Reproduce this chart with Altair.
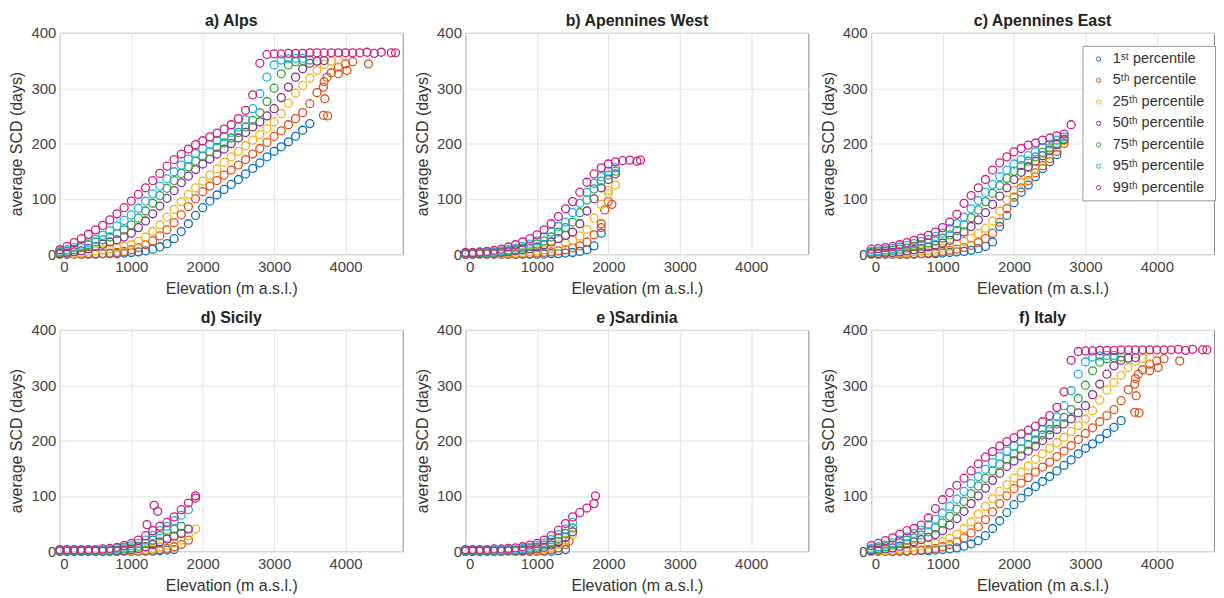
import altair as alt
import pandas as pd

# ---------------- series ----------------
SERIES = ["1ˢᵗ  percentile", "5ᵗʰ  percentile", "25ᵗʰ  percentile", "50ᵗʰ  percentile",
          "75ᵗʰ  percentile", "95ᵗʰ  percentile", "99ᵗʰ  percentile"]
COLORS = ["#0b6fbd", "#d9531b", "#f0b11e", "#7e2f8e", "#34a238", "#22b0ee", "#cc1d80"]

ELEV = list(range(0, 4800, 100))

# ---------------- a) Alps ----------------
ALPS_P1 = [0, 0, 0, 0, 0, 0, 1, 1, 1, 2, 3, 4, 6, 9, 13, 19, 28, 41, 55, 70, 84, 96, 107, 117, 126, 135,
           145, 155, 165, 176, 186, 194, 203, 213, 224, 236]
ALPS_P5 = [0, 0, 0, 0, 1, 1, 1, 2, 3, 5, 8, 12, 17, 24, 33, 44, 57, 71, 86, 100, 113, 123, 133, 143, 152,
           161, 171, 181, 191, 202, 213, 223, 234, 245, 256, 272, 292, 312, 328, 338, 344, 348]
ALPS_P25 = [0, 1, 1, 2, 4, 6, 8, 10, 12, 14, 17, 23, 31, 41, 53, 67, 81, 95, 108, 120, 132, 143, 154, 166,
            176, 186, 196, 206, 216, 227, 239, 254, 273, 291, 305, 318, 332, 343, 349, 351]
ALPS_P50 = [1, 2, 4, 6, 10, 14, 18, 22, 26, 31, 38, 48, 60, 73, 87, 101, 115, 129, 141, 153, 163, 172, 181,
            190, 200, 210, 220, 230, 239, 250, 263, 283, 302, 320, 335, 345, 349, 350]
ALPS_P75 = [3, 5, 8, 12, 17, 22, 26, 31, 37, 44, 53, 65, 78, 92, 106, 119, 133, 146, 158, 168, 177, 185,
            193, 201, 210, 220, 230, 242, 256, 276, 300, 326, 342, 348, 350, 351]
ALPS_P95 = [5, 8, 12, 16, 21, 27, 34, 42, 51, 61, 71, 83, 96, 109, 123, 136, 149, 161, 172, 182, 191, 198,
            205, 212, 220, 230, 243, 263, 290, 320, 342, 351, 353, 354, 354]
ALPS_P99 = [8, 14, 21, 28, 36, 44, 52, 62, 73, 84, 96, 108, 120, 133, 146, 159, 171, 181, 190, 198, 205,
            212, 219, 226, 234, 245, 260, 288, 345, 361, 362, 362, 363, 363, 363, 364, 364, 364, 364, 364,
            364, 364, 364, 365, 363, 365, None, 364]
ALPS_X_SERIES = [1, 1, 1, 1, 1, 1, 1, 1, 6]
ALPS_X_ELEV = [3690, 3750, 3710, 3690, 3740, 3900, 4020, 4320, 4640]
ALPS_X_VAL = [251, 250, 281, 302, 320, 326, 332, 344, 364]

# ---------------- b) Apennines West ----------------
APW_P1 = [0, 0, 0, 0, 0, 0, 0, 0, 0, 0, 0, 0, 1, 1, 2, 3, 5, 8, 15, 38]
APW_P5 = [0, 0, 0, 0, 0, 0, 0, 0, 1, 1, 2, 3, 4, 6, 8, 11, 15, 22, 35, 55, 95]
APW_P25 = [0, 0, 0, 0, 1, 1, 2, 2, 3, 4, 6, 8, 11, 15, 20, 25, 33, 45, 65, 90, 115, 125]
APW_P50 = [0, 0, 1, 1, 2, 3, 4, 6, 8, 10, 13, 17, 22, 28, 34, 40, 55, 78, 100, 120, 135, 145]
APW_P75 = [1, 1, 2, 2, 3, 4, 6, 8, 11, 14, 18, 24, 31, 40, 48, 58, 75, 98, 118, 132, 143, 150]
APW_P95 = [2, 2, 3, 3, 4, 6, 8, 11, 14, 18, 24, 31, 40, 50, 58, 75, 92, 112, 128, 140, 150, 156]
APW_P99 = [3, 3, 4, 5, 7, 9, 13, 17, 22, 28, 35, 44, 55, 68, 82, 95, 112, 130, 145, 156, 163, 167, 169,
           170, 168]
APW_X_SERIES = [1, 1, 2, 1, 6]
APW_X_ELEV = [1950, 2050, 2000, 1900, 2450]
APW_X_VAL = [80, 90, 110, 48, 170]

# ---------------- c) Apennines East ----------------
APE_P1 = [0, 0, 0, 0, 0, 0, 0, 1, 1, 1, 2, 3, 4, 5, 7, 10, 14, 22, 50, 70, 93, 112, 125, 140, 155, 167, 180]
APE_P5 = [0, 0, 0, 0, 0, 0, 1, 1, 2, 3, 5, 7, 9, 12, 16, 21, 28, 38, 58, 82, 103, 120, 133, 147, 160, 173,
          186, 200]
APE_P25 = [0, 0, 1, 1, 2, 3, 4, 6, 7, 9, 11, 14, 18, 23, 29, 37, 47, 60, 78, 98, 115, 130, 143, 155, 168,
           180, 193, 205]
APE_P50 = [1, 1, 2, 3, 4, 6, 8, 10, 13, 16, 20, 25, 32, 40, 50, 62, 75, 90, 105, 120, 135, 148, 158, 168,
           178, 188, 198, 207]
APE_P75 = [3, 4, 5, 7, 9, 11, 14, 17, 20, 24, 29, 35, 43, 53, 66, 80, 95, 110, 124, 137, 150, 160, 168,
           176, 184, 192, 200, 208]
APE_P95 = [5, 6, 8, 10, 13, 16, 19, 23, 27, 32, 38, 46, 55, 67, 82, 97, 112, 126, 140, 152, 163, 171, 178,
           185, 192, 199, 206, 212]
APE_P99 = [9, 10, 12, 14, 17, 21, 25, 29, 34, 40, 48, 58, 72, 92, 106, 120, 135, 152, 165, 176, 185, 191,
           197, 201, 206, 210, 214, 217]
APE_X_SERIES = [6]
APE_X_ELEV = [2800]
APE_X_VAL = [234]

# ---------------- d) Sicily ----------------
SIC_P1 = [0, 0, 0, 0, 0, 0, 0, 0, 0, 0, 0, 0, 0, 0, 1, 2, 3]
SIC_P5 = [0, 0, 0, 0, 0, 0, 0, 0, 0, 0, 0, 0, 1, 2, 3, 5, 8, 12, 20]
SIC_P25 = [0, 0, 0, 0, 0, 0, 0, 0, 0, 0, 1, 2, 3, 5, 8, 11, 15, 20, 28, 40]
SIC_P50 = [0, 0, 0, 0, 0, 0, 0, 0, 0, 1, 3, 5, 8, 12, 17, 22, 27, 32, 40]
SIC_P75 = [1, 1, 1, 1, 1, 1, 1, 1, 2, 4, 6, 9, 14, 20, 28, 38, 40, 45]
SIC_P95 = [2, 2, 2, 2, 2, 2, 2, 3, 5, 7, 10, 14, 20, 28, 37, 45, 55, 65, 75]
SIC_P99 = [3, 3, 3, 3, 3, 3, 4, 5, 7, 10, 14, 20, 28, 37, 45, 52, 62, 75, 87, 96]
SIC_X_SERIES = [6, 6, 6, 6]
SIC_X_ELEV = [1320, 1370, 1220, 1900]
SIC_X_VAL = [83, 72, 48, 100]

# ---------------- e) Sardinia ----------------
SAR_P1 = [0, 0, 0, 0, 0, 0, 0, 0, 0, 0, 0, 0, 0, 1, 3]
SAR_P5 = [0, 0, 0, 0, 0, 0, 0, 0, 0, 0, 0, 1, 3, 6, 12]
SAR_P25 = [0, 0, 0, 0, 0, 0, 0, 0, 0, 1, 2, 4, 7, 12, 20, 30]
SAR_P50 = [0, 0, 0, 0, 0, 0, 1, 1, 1, 2, 4, 7, 11, 17, 25, 35]
SAR_P75 = [1, 1, 1, 1, 1, 1, 2, 2, 3, 5, 7, 11, 16, 23, 32, 42]
SAR_P95 = [2, 2, 2, 2, 2, 2, 3, 3, 5, 7, 10, 15, 21, 30, 40, 52]
SAR_P99 = [3, 3, 3, 3, 4, 4, 5, 6, 8, 11, 14, 20, 28, 38, 50, 62, 70, 78, 86]
SAR_X_SERIES = [1, 6]
SAR_X_ELEV = [1450, 1820]
SAR_X_VAL = [18, 100]

# ---------------- f) Italy ----------------
ITA_P1 = [0, 0, 0, 0, 0, 0, 1, 1, 1, 2, 3, 4, 6, 9, 13, 19, 28, 41, 55, 70, 84, 96, 107, 117, 126, 135,
          145, 155, 165, 176, 186, 194, 203, 213, 224, 236]
ITA_P5 = [0, 0, 0, 0, 1, 1, 1, 2, 3, 5, 8, 12, 17, 24, 33, 44, 57, 71, 86, 100, 113, 123, 133, 143, 152,
          161, 171, 181, 191, 202, 213, 223, 234, 245, 256, 272, 292, 312, 328, 338, 344, 348]
ITA_P25 = [0, 1, 1, 2, 4, 6, 8, 10, 12, 14, 17, 23, 31, 41, 53, 67, 81, 95, 108, 120, 132, 143, 154, 166,
           176, 186, 196, 206, 216, 227, 239, 254, 273, 291, 305, 318, 332, 343, 349, 351]
ITA_P50 = [1, 2, 4, 6, 9, 13, 17, 21, 25, 30, 37, 47, 59, 72, 86, 100, 114, 128, 141, 153, 163, 172, 181,
           190, 200, 210, 220, 230, 239, 250, 263, 283, 302, 320, 335, 345, 349, 350]
ITA_P75 = [3, 5, 8, 11, 15, 20, 24, 29, 35, 42, 51, 63, 76, 90, 104, 118, 132, 145, 157, 167, 176, 185,
           193, 201, 210, 220, 230, 242, 256, 276, 300, 326, 342, 348, 350, 351]
ITA_P95 = [5, 8, 11, 15, 20, 26, 32, 38, 48, 58, 69, 81, 94, 108, 122, 135, 148, 160, 171, 181, 190, 198,
           205, 212, 220, 230, 243, 263, 290, 320, 342, 351, 353, 354, 354]
ITA_P99 = [10, 14, 19, 24, 31, 37, 41, 47, 60, 77, 93, 106, 119, 132, 145, 158, 170, 180, 190, 198, 205,
           212, 219, 226, 234, 245, 260, 288, 345, 361, 362, 362, 363, 363, 363, 364, 364, 364, 364, 364,
           364, 364, 364, 365, 363, 365, None, 364]
ITA_X_SERIES = [1, 1, 1, 1, 1, 1, 1, 1, 6]
ITA_X_ELEV = [3690, 3750, 3710, 3690, 3740, 3900, 4020, 4320, 4640]
ITA_X_VAL = [251, 250, 281, 302, 320, 326, 332, 344, 364]

PANELS = [
    ("a) Alps", [ALPS_P1, ALPS_P5, ALPS_P25, ALPS_P50, ALPS_P75, ALPS_P95, ALPS_P99],
     ALPS_X_SERIES, ALPS_X_ELEV, ALPS_X_VAL),
    ("b) Apennines West", [APW_P1, APW_P5, APW_P25, APW_P50, APW_P75, APW_P95, APW_P99],
     APW_X_SERIES, APW_X_ELEV, APW_X_VAL),
    ("c) Apennines East", [APE_P1, APE_P5, APE_P25, APE_P50, APE_P75, APE_P95, APE_P99],
     APE_X_SERIES, APE_X_ELEV, APE_X_VAL),
    ("d) Sicily", [SIC_P1, SIC_P5, SIC_P25, SIC_P50, SIC_P75, SIC_P95, SIC_P99],
     SIC_X_SERIES, SIC_X_ELEV, SIC_X_VAL),
    ("e )Sardinia", [SAR_P1, SAR_P5, SAR_P25, SAR_P50, SAR_P75, SAR_P95, SAR_P99],
     SAR_X_SERIES, SAR_X_ELEV, SAR_X_VAL),
    ("f) Italy", [ITA_P1, ITA_P5, ITA_P25, ITA_P50, ITA_P75, ITA_P95, ITA_P99],
     ITA_X_SERIES, ITA_X_ELEV, ITA_X_VAL),
]

FONT = "Liberation Sans"

LEGEND = alt.Legend(title=None, orient="none", legendX=1026, legendY=13,
                    symbolType="circle", symbolSize=18, symbolStrokeWidth=1,
                    symbolFillColor="transparent",
                    labelFont=FONT, labelFontSize=14.5, labelColor="#333333",
                    rowPadding=6.5, padding=6, strokeColor="#9a9a9a",
                    fillColor="white", labelOffset=7, symbolOffset=3)


def make_df(series_lists, xs, xe, xv):
    rows = []
    for si, vals in enumerate(series_lists):
        for e, v in zip(ELEV, vals):
            if v is not None:
                rows.append({"elev": e, "scd": v, "series": SERIES[si], "sidx": si})
    for s, e, v in zip(xs, xe, xv):
        rows.append({"elev": e, "scd": v, "series": SERIES[s], "sidx": s})
    return pd.DataFrame(rows).sort_values("sidx", kind="stable")


def panel(title, series_lists, xs, xe, xv):
    df = make_df(series_lists, xs, xe, xv)
    return alt.Chart(df, title=alt.Title(title, font=FONT, fontSize=16, fontWeight="bold",
                                         color="#222222", offset=-3)).mark_point(
        shape="circle", filled=False, size=64, strokeWidth=1.3, opacity=1
    ).encode(
        x=alt.X("elev:Q", scale=alt.Scale(domain=[0, 4800], nice=False),
                axis=alt.Axis(values=[0, 1000, 2000, 3000, 4000], title="Elevation (m a.s.l.)",
                              format="d")),
        y=alt.Y("scd:Q", scale=alt.Scale(domain=[0, 400], nice=False),
                axis=alt.Axis(values=[0, 100, 200, 300, 400], title="average SCD (days)")),
        color=alt.Color("series:N", scale=alt.Scale(domain=SERIES, range=COLORS), legend=LEGEND),
        order=alt.Order("sidx:Q"),
    ).properties(width=344, height=222)


charts = [panel(*p) for p in PANELS]

row1 = alt.hconcat(*charts[:3], spacing=10)
row2 = alt.hconcat(*charts[3:], spacing=10)
chart = alt.vconcat(row1, row2, spacing=12).properties(
    padding={"left": 0, "top": 3, "right": 0, "bottom": 0}
).configure_view(
    stroke="#8c8c8c", strokeWidth=1
).configure_axis(
    domain=False, ticks=False, grid=True, gridColor="#e3e3e3", gridWidth=1,
    labelFont=FONT, labelFontSize=15, labelColor="#444444", labelPadding=5,
    titleFont=FONT, titleFontSize=16, titleFontWeight="normal", titleColor="#333333",
    titlePadding=6,
).configure_axisY(titlePadding=6, labelPadding=4)

chart.save("out.html", embed_options={"renderer": "svg", "actions": False})
